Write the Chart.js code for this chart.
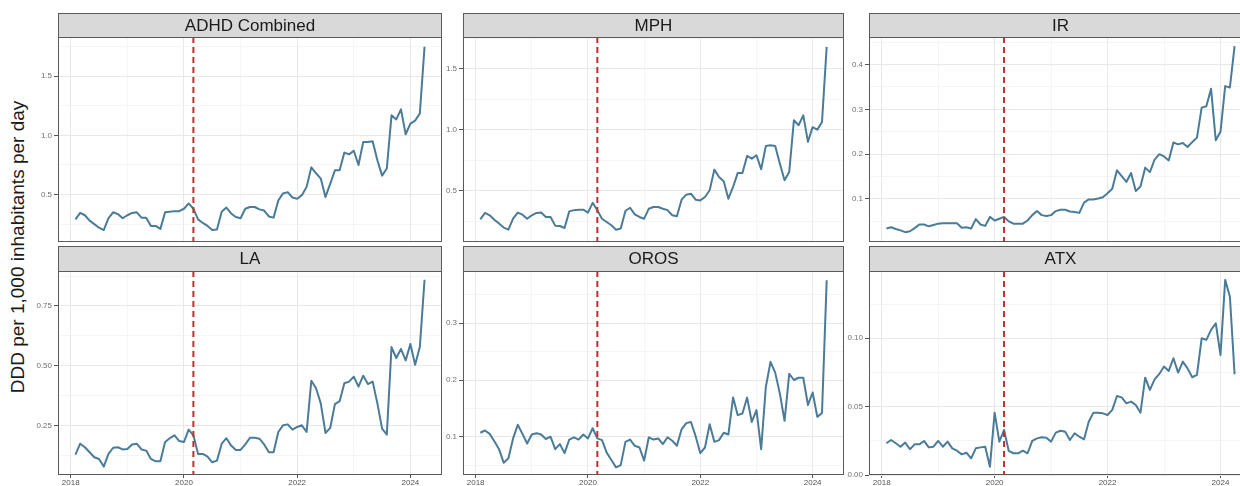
<!DOCTYPE html>
<html>
<head>
<meta charset="utf-8">
<script src="https://cdn.jsdelivr.net/npm/chart.js@4.4.1/dist/chart.umd.min.js"></script>
<style>
  body { margin: 0; width: 1240px; height: 486px; overflow: hidden; background: #fff; position: relative;
         font-family: "Liberation Sans", Arial, sans-serif; }
  canvas { position: absolute; }
  #ytitle { position: absolute; left: 18px; top: 247px; transform: translate(-50%, -50%) rotate(-90deg);
            white-space: nowrap; font-size: 19px; color: #1a1a1a; }
</style>
</head>
<body>
<div id="ytitle">DDD per 1,000 inhabitants per day</div>
<canvas id="p0"></canvas>
<canvas id="p1"></canvas>
<canvas id="p2"></canvas>
<canvas id="p3"></canvas>
<canvas id="p4"></canvas>
<canvas id="p5"></canvas>
<script>
// months (first of month), Feb 2018 - Apr 2024
var months = [
  "2018-02","2018-03","2018-04","2018-05","2018-06","2018-07","2018-08","2018-09","2018-10","2018-11","2018-12",
  "2019-01","2019-02","2019-03","2019-04","2019-05","2019-06","2019-07","2019-08","2019-09","2019-10","2019-11","2019-12",
  "2020-01","2020-02","2020-03","2020-04","2020-05","2020-06","2020-07","2020-08","2020-09","2020-10","2020-11","2020-12",
  "2021-01","2021-02","2021-03","2021-04","2021-05","2021-06","2021-07","2021-08","2021-09","2021-10","2021-11","2021-12",
  "2022-01","2022-02","2022-03","2022-04","2022-05","2022-06","2022-07","2022-08","2022-09","2022-10","2022-11","2022-12",
  "2023-01","2023-02","2023-03","2023-04","2023-05","2023-06","2023-07","2023-08","2023-09","2023-10","2023-11","2023-12",
  "2024-01","2024-02","2024-03","2024-04"
];
var covidMonth = "2020-03";

// DDD per 1,000 inhabitants per day
var adhdCombined = [0.29,0.345,0.325,0.28,0.25,0.22,0.20,0.30,0.35,0.335,0.30,0.325,0.345,0.35,0.305,0.305,0.235,0.235,0.21,
  0.35,0.355,0.36,0.36,0.38,0.425,0.38,0.29,0.26,0.235,0.20,0.205,0.355,0.39,0.34,0.31,0.30,0.38,0.395,0.395,0.375,0.365,
  0.315,0.305,0.45,0.51,0.52,0.475,0.465,0.495,0.565,0.73,0.68,0.635,0.48,0.59,0.705,0.705,0.855,0.84,0.87,0.75,0.945,
  0.945,0.95,0.79,0.66,0.72,1.17,1.135,1.22,1.01,1.10,1.125,1.185,1.75];
var mph = [0.265,0.317,0.298,0.262,0.23,0.197,0.18,0.27,0.32,0.303,0.27,0.298,0.317,0.32,0.284,0.284,0.213,0.21,0.194,
  0.33,0.34,0.344,0.344,0.32,0.40,0.34,0.27,0.243,0.216,0.18,0.19,0.333,0.36,0.306,0.284,0.27,0.352,0.366,0.366,0.352,0.34,
  0.298,0.29,0.426,0.467,0.475,0.426,0.42,0.448,0.503,0.672,0.612,0.577,0.434,0.53,0.645,0.645,0.784,0.762,0.79,0.675,0.866,
  0.872,0.866,0.72,0.585,0.653,1.077,1.036,1.117,0.90,1.02,1.0,1.063,1.678];
var ir = [0.034,0.037,0.033,0.030,0.026,0.028,0.035,0.043,0.043,0.039,0.042,0.045,0.046,0.046,0.046,0.046,0.036,0.037,0.034,
  0.055,0.043,0.040,0.060,0.052,0.056,0.060,0.050,0.045,0.045,0.045,0.052,0.064,0.073,0.064,0.062,0.064,0.073,0.076,0.076,
  0.072,0.071,0.069,0.092,0.099,0.099,0.101,0.104,0.113,0.123,0.164,0.151,0.138,0.158,0.118,0.128,0.170,0.160,0.188,0.200,
  0.195,0.186,0.226,0.222,0.225,0.216,0.227,0.237,0.304,0.307,0.346,0.231,0.250,0.352,0.349,0.441];
var la = [0.127,0.173,0.158,0.137,0.116,0.109,0.077,0.130,0.156,0.158,0.149,0.151,0.170,0.173,0.149,0.144,0.109,0.099,0.099,
  0.180,0.196,0.208,0.184,0.180,0.232,0.208,0.130,0.130,0.119,0.095,0.102,0.173,0.196,0.165,0.147,0.147,0.170,0.198,0.198,
  0.194,0.170,0.137,0.137,0.222,0.250,0.254,0.232,0.243,0.250,0.222,0.437,0.405,0.342,0.218,0.239,0.339,0.351,0.426,0.433,
  0.454,0.412,0.458,0.423,0.433,0.342,0.236,0.211,0.578,0.532,0.570,0.522,0.591,0.504,0.578,0.860];
var oros = [0.107,0.111,0.105,0.092,0.078,0.054,0.062,0.097,0.121,0.105,0.088,0.104,0.106,0.104,0.096,0.100,0.078,0.087,0.071,
  0.095,0.099,0.095,0.104,0.097,0.115,0.097,0.094,0.072,0.059,0.046,0.050,0.091,0.095,0.084,0.081,0.058,0.099,0.095,0.097,
  0.087,0.099,0.093,0.084,0.113,0.124,0.126,0.101,0.071,0.081,0.122,0.091,0.094,0.107,0.104,0.169,0.138,0.141,0.169,0.126,
  0.147,0.078,0.188,0.232,0.213,0.176,0.128,0.211,0.200,0.204,0.204,0.156,0.178,0.135,0.142,0.376];
var atx = [0.0232,0.0256,0.0232,0.0207,0.0237,0.0188,0.0224,0.0224,0.0249,0.0202,0.0207,0.0249,0.0207,0.0244,0.0195,0.0178,
  0.0151,0.0163,0.0122,0.0195,0.0202,0.0207,0.0061,0.0456,0.0244,0.0329,0.0176,0.0159,0.0159,0.0178,0.0159,0.0249,0.0268,
  0.0276,0.0273,0.0244,0.0310,0.0324,0.0317,0.0256,0.0305,0.0280,0.0261,0.0390,0.0456,0.0456,0.0451,0.0439,0.0476,0.0578,
  0.0568,0.0524,0.0537,0.0512,0.0456,0.0712,0.0622,0.0700,0.0739,0.0793,0.0761,0.0854,0.0749,0.0829,0.0780,0.0715,0.0732,
  0.1000,0.0988,0.1061,0.1110,0.0878,0.1427,0.1305,0.0737];

// axis labels
var yearLabels = [2018, 2020, 2022, 2024];
var adhdTicks = [0.5, 1.0, 1.5];
var mphTicks = [0.5, 1.0, 1.5];
var irTicks = [0.1, 0.2, 0.3, 0.4];
var laTicks = [0.25, 0.50, 0.75];
var orosTicks = [0.1, 0.2, 0.3];
var atxTicks = [0.00, 0.05, 0.10];

var panels = [
  { title: "ADHD Combined", values: adhdCombined, major: adhdTicks, digits: 1, col: 0, row: 0, yLo: 0.099, yHi: 1.832 },
  { title: "MPH", values: mph, major: mphTicks, digits: 1, col: 1, row: 0, yLo: 0.079, yHi: 1.759 },
  { title: "IR", values: ir, major: irTicks, digits: 1, col: 2, row: 0, yLo: 0.004, yHi: 0.4616 },
  { title: "LA", values: la, major: laTicks, digits: 2, col: 0, row: 1, yLo: 0.0418, yHi: 0.8966 },
  { title: "OROS", values: oros, major: orosTicks, digits: 1, col: 1, row: 1, yLo: 0.0325, yHi: 0.3922 },
  { title: "ATX", values: atx, major: atxTicks, digits: 2, col: 2, row: 1, yLo: 0, yHi: 0.1492 }
];

//layout (px)
var colL = [58, 463, 869], colR = [442, 844, 1252];
var rowS = [13, 246], rowT = [37, 271], rowB = [242, 475];
var AXIS_W = 40, XLAB_H = 13;

function monthToX(m) {
  var p = m.split("-");
  return +p[0] + (+p[1] - 1) / 12;
}
var xs = months.map(monthToX);
var xSpan = xs[xs.length - 1] - xs[0];
var xLo = xs[0] - 0.05 * xSpan, xHi = xs[xs.length - 1] + 0.05 * xSpan;
var covidX = monthToX(covidMonth);

function near(v, list) {
  return list.some(function (t) { return Math.abs(t - v) < 1e-6; });
}
// major breaks plus ggplot-style minor breaks halfway between
function gridValues(major, lo, hi) {
  var step = major[1] - major[0], out = [];
  for (var k = -2; k <= major.length * 2; k++) {
    var v = +(major[0] + k * step / 2).toFixed(6);
    if (v >= lo - 1e-9 && v <= hi + 1e-9) out.push(v);
  }
  return out;
}
var yearGrid = [];
for (var yr = Math.ceil(xLo); yr <= Math.floor(xHi); yr++) yearGrid.push(yr);

var facetPlugin = {
  id: "facet",
  afterDatasetsDraw: function (chart) {
    var c = chart.ctx, a = chart.chartArea;
    var x = chart.scales.x.getPixelForValue(covidX);
    c.save();
    c.strokeStyle = "#c0302e";
    c.lineWidth = 2;
    c.setLineDash([6, 4]);
    c.beginPath();
    c.moveTo(x, a.top);
    c.lineTo(x, a.bottom);
    c.stroke();
    c.setLineDash([]);
    c.strokeStyle = "#5a5a5a";
    c.lineWidth = 1;
    c.strokeRect(a.left + 0.5, a.top + 0.5, a.width - 1, a.height - 1);
    c.restore();
  },
  afterDraw: function (chart) {
    var c = chart.ctx, a = chart.chartArea;
    var title = chart.options.plugins.facet.title;
    c.save();
    c.fillStyle = "#d9d9d9";
    c.fillRect(a.left, 0, a.width, a.top);
    c.strokeStyle = "#5a5a5a";
    c.lineWidth = 1;
    c.strokeRect(a.left + 0.5, 0.5, a.width - 1, a.top);
    c.fillStyle = "#1a1a1a";
    c.font = '17px "Liberation Sans", Arial, sans-serif';
    c.textAlign = "center";
    c.textBaseline = "middle";
    c.fillText(title, (a.left + a.right) / 2, a.top / 2 + 1);
    c.restore();
  }
};

panels.forEach(function (p, idx) {
  var cv = document.getElementById("p" + idx);
  var bottomRow = p.row === 1;
  var w = colR[p.col] - colL[p.col] + AXIS_W;
  var h = rowB[p.row] - rowS[p.row] + (bottomRow ? XLAB_H : 0);
  cv.width = w;
  cv.height = h;
  cv.style.left = (colL[p.col] - AXIS_W) + "px";
  cv.style.top = rowS[p.row] + "px";

  var yGrid = gridValues(p.major, p.yLo, p.yHi);
  var pts = p.values.map(function (v, i) { return { x: xs[i], y: v }; });

  new Chart(cv, {
    type: "line",
    data: {
      datasets: [{
        data: pts,
        borderColor: "#4a7c99",
        borderWidth: 2,
        pointRadius: 0,
        tension: 0,
        borderJoinStyle: "round"
      }]
    },
    options: {
      responsive: false,
      animation: false,
      events: [],
      layout: { padding: { top: rowT[p.row] - rowS[p.row], left: 0, right: 0, bottom: 0 } },
      plugins: { legend: { display: false }, tooltip: { enabled: false }, facet: { title: p.title } },
      scales: {
        x: {
          type: "linear",
          min: xLo,
          max: xHi,
          afterBuildTicks: function (s) { s.ticks = yearGrid.map(function (v) { return { value: v }; }); },
          afterFit: function (s) { s.height = bottomRow ? XLAB_H : 0; s.paddingLeft = 0; s.paddingRight = 0; },
          border: { display: false },
          grid: {
            color: function (c) { return near(c.tick.value, yearLabels) ? "#e8e8e8" : "#f0f0f0"; },
            lineWidth: function (c) { return near(c.tick.value, yearLabels) ? 1 : 0.7; },
            drawTicks: bottomRow,
            tickLength: 3,
            tickColor: function (c) { return near(c.tick.value, yearLabels) ? "#555" : "rgba(0,0,0,0)"; }
          },
          ticks: {
            display: bottomRow,
            autoSkip: false,
            maxRotation: 0,
            padding: 0,
            color: "#555",
            font: { size: 8, family: '"Liberation Sans", Arial, sans-serif' },
            callback: function (v) { return near(v, yearLabels) ? String(v) : ""; }
          }
        },
        y: {
          min: p.yLo,
          max: p.yHi,
          afterBuildTicks: function (s) { s.ticks = yGrid.map(function (v) { return { value: v }; }); },
          afterFit: function (s) { s.width = AXIS_W; s.paddingTop = 0; s.paddingBottom = 0; },
          border: { display: false },
          grid: {
            color: function (c) { return near(c.tick.value, p.major) ? "#e8e8e8" : "#f0f0f0"; },
            lineWidth: function (c) { return near(c.tick.value, p.major) ? 1 : 0.7; },
            drawTicks: true,
            tickLength: 4,
            tickColor: function (c) { return near(c.tick.value, p.major) ? "#555" : "rgba(0,0,0,0)"; }
          },
          ticks: {
            autoSkip: false,
            padding: 2,
            color: "#707070",
            font: { size: 8, family: '"Liberation Sans", Arial, sans-serif' },
            callback: function (v) { return near(v, p.major) ? v.toFixed(p.digits) : ""; }
          }
        }
      }
    },
    plugins: [facetPlugin]
  });
});
</script>
</body>
</html>
